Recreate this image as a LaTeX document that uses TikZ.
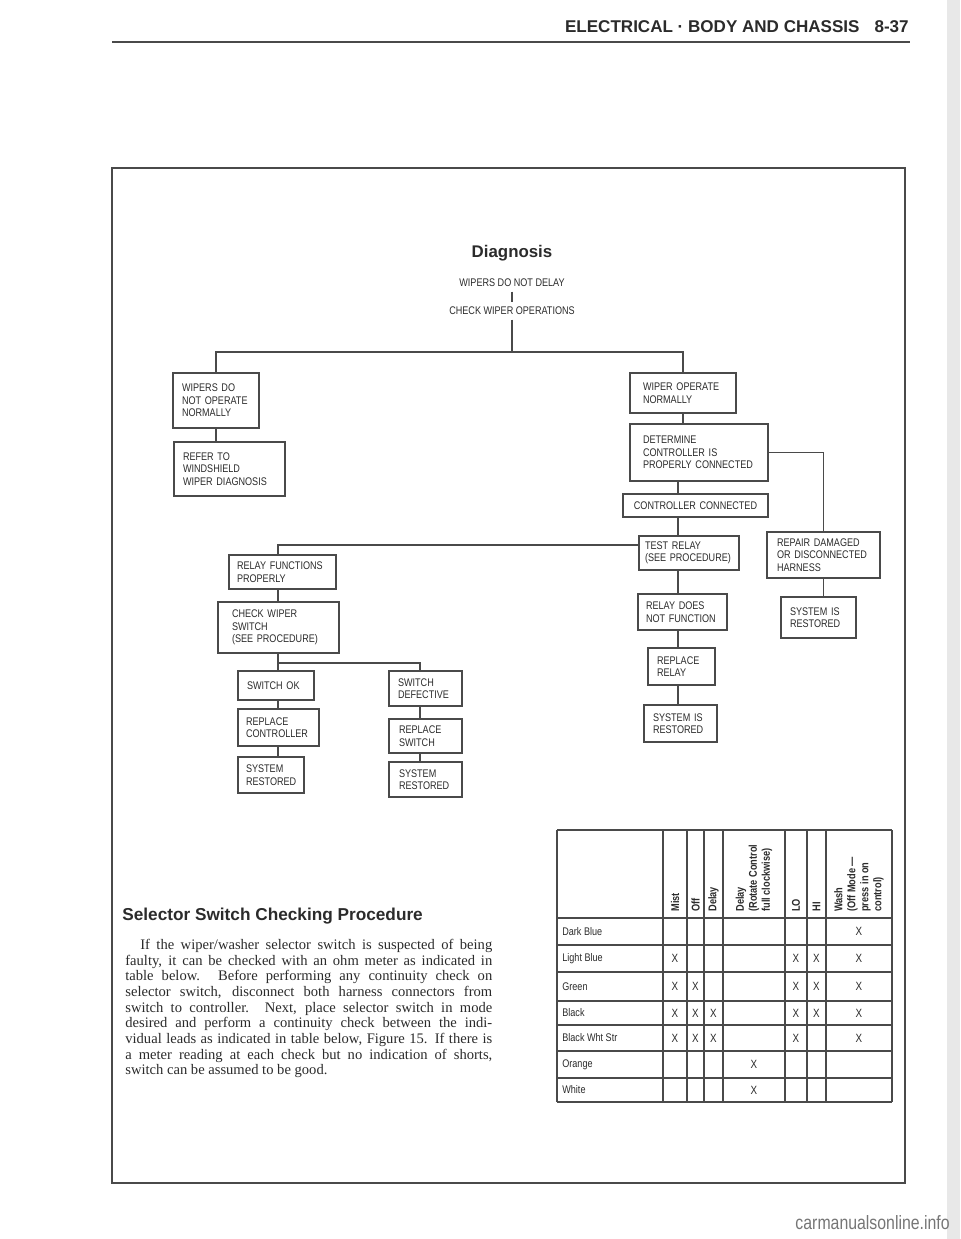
\documentclass[tikz,border=0pt]{standalone}
\usepackage{fontspec}
\setmainfont{Liberation Serif}
\newfontfamily\boxfont[FakeStretch=0.82]{Liberation Sans}
\newfontfamily\headfont{Liberation Sans}
\usetikzlibrary{calc}
\definecolor{ink}{HTML}{2b2b2b}
\definecolor{rulegray}{HTML}{4a4a4a}
\definecolor{scan}{HTML}{767676}

\tikzset{
  boxpad/.code={\def\bxpad{#1}},
  flow/.style={draw=rulegray, line width=0.65pt, text=ink, anchor=north west, align=left,
    inner ysep=0pt, outer sep=0pt, boxpad=9,
    font=\boxfont\fontsize{6.3}{7.1}\selectfont},
  boxsize/.code 2 args={%
    \pgfmathsetmacro\bxw{#1*0.02}%
    \pgfmathsetmacro\bxt{(#1-2*\bxpad)*0.02}%
    \pgfmathsetmacro\bxs{\bxpad*0.02}%
    \pgfmathsetmacro\bxh{#2*0.02}%
    \edef\bxset{\noexpand\pgfkeysalso{inner xsep=\bxs cm, minimum width=\bxw cm,
      text width=\bxt cm, minimum height=\bxh cm}}%
    \bxset},
  link/.style={draw=rulegray, line width=0.6pt},
  caption/.style={text=ink, inner xsep=0pt, inner ysep=2.5pt, font=\boxfont\fontsize{6.3}{7.1}\selectfont},
  grid/.style={draw=rulegray, line width=0.6pt},
  colhead/.style={rotate=90, anchor=west, align=left, inner sep=0pt, text=ink,
    font=\boxfont\bfseries\fontsize{6.4}{7.4}\selectfont},
  rowlab/.style={anchor=west, inner sep=0pt, text=ink, font=\boxfont\fontsize{6.3}{7.2}\selectfont},
  xmark/.style={inner sep=0pt, text=ink, font=\boxfont\fontsize{6.8}{7.5}\selectfont},
}

\begin{document}
\begin{tikzpicture}[x=0.02cm, y=-0.02cm]
\fill[white] (0,0) rectangle (960,1239);
\useasboundingbox (0,0) rectangle (960,1239);
% page edge of the scan
\fill[black!9] (947,0) rectangle (960,1239);

% running head
\node[anchor=base east, inner sep=0pt, text=ink, font=\headfont\bfseries\fontsize{9.7}{11}\selectfont]
  (runhead) at (909,33) {ELECTRICAL · BODY AND CHASSIS\hspace{0.3cm}8-37};
\draw[rulegray, line width=0.8pt] (112,42) -- (910,42);

% figure frame
\draw[rulegray, line width=0.7pt] (112,168) rectangle (905,1183);

% Diagnosis chart
\node[anchor=base, inner sep=0pt, text=ink, font=\headfont\bfseries\fontsize{9.6}{11}\selectfont]
  (diag) at (512,258) {Diagnosis};
\node[caption] (nodelay) at (512,283) {WIPERS DO NOT DELAY};
\node[caption] (checkops) at (512,311) {CHECK WIPER OPERATIONS};
\coordinate (split) at (512,352);

% left branch
\node[flow, boxsize={86}{55}] (noop) at (173,373) {WIPERS DO\\NOT OPERATE\\NORMALLY};
\node[flow, boxsize={111}{54}] (refer) at (174,442) {REFER TO\\WINDSHIELD\\WIPER DIAGNOSIS};

% right branch
\node[flow, boxpad=13, boxsize={106}{40}] (wopnorm) at (630,373) {WIPER OPERATE\\NORMALLY};
\node[flow, boxpad=13, boxsize={138}{57}] (determine) at (630,424) {DETERMINE\\CONTROLLER IS\\PROPERLY CONNECTED};
\node[flow, boxpad=6, boxsize={145}{23}, align=center] (connected) at (623,494) {CONTROLLER CONNECTED};
\node[flow, boxpad=6, boxsize={100}{34}] (testrelay) at (639,536) {TEST RELAY\\(SEE PROCEDURE)};
\node[flow, boxpad=8, boxsize={89}{36}] (relaydoes) at (638,594) {RELAY DOES\\NOT FUNCTION};
\node[flow, boxsize={67}{37}] (replrelay) at (648,648) {REPLACE\\RELAY};
\node[flow, boxsize={73}{37}] (restored3) at (644,705) {SYSTEM IS\\RESTORED};
\node[flow, boxpad=10, boxsize={113}{46}] (repair) at (767,532) {REPAIR DAMAGED\\OR DISCONNECTED\\HARNESS};
\node[flow, boxsize={75}{41}] (restored4) at (781,597) {SYSTEM IS\\RESTORED};

% relay works -> switch check
\node[flow, boxpad=8, boxsize={107}{34}] (relayok) at (229,555) {RELAY FUNCTIONS\\PROPERLY};
\node[flow, boxpad=14, boxsize={121}{51}] (checksw) at (218,602) {CHECK WIPER\\SWITCH\\(SEE PROCEDURE)};
\node[flow, boxsize={76}{29}] (swok) at (238,671) {SWITCH OK};
\node[flow, boxpad=8, boxsize={81}{37}] (replctl) at (238,709) {REPLACE\\CONTROLLER};
\node[flow, boxpad=8, boxsize={66}{36}] (restored1) at (238,757) {SYSTEM\\RESTORED};
\node[flow, boxsize={73}{35}] (swdef) at (389,671) {SWITCH\\DEFECTIVE};
\node[flow, boxpad=10, boxsize={73}{34}] (replsw) at (389,719) {REPLACE\\SWITCH};
\node[flow, boxpad=10, boxsize={73}{35}] (restored2) at (389,762) {SYSTEM\\RESTORED};

\coordinate (spine) at (678,0);
\coordinate (lspine) at (278,0);
\coordinate (rspine) at (420,0);
\coordinate (swsplit) at (278,663);

% connectors
\draw[link] (nodelay) -- (checkops);
\draw[link] (checkops) -- (split);
\draw[link] (noop.north) |- (split) -| (wopnorm.north);
\draw[link] (noop.south) -- (noop.south |- refer.north);
\draw[link] (wopnorm.south) -- (wopnorm.south |- determine.north);
\draw[link] (spine |- determine.south) -- (spine |- connected.north);
\draw[link] (spine |- connected.south) -- (spine |- testrelay.north);
\draw[link] (spine |- testrelay.south) -- (spine |- relaydoes.north);
\draw[link] (spine |- relaydoes.south) -- (spine |- replrelay.north);
\draw[link] (spine |- replrelay.south) -- (spine |- restored3.north);
\draw[link] (determine.east) -| (repair.north);
\draw[link] (repair.south) -- (repair.south |- restored4.north);
\draw[link] ([yshift=0.16cm]testrelay.west) -| (lspine |- relayok.north);
\draw[link] (lspine |- relayok.south) -- (lspine |- checksw.north);
\draw[link] (lspine |- checksw.south) -- (lspine |- swok.north);
\draw[link] (swsplit) -| (rspine |- swdef.north);
\draw[link] (lspine |- swok.south) -- (lspine |- replctl.north);
\draw[link] (lspine |- replctl.south) -- (lspine |- restored1.north);
\draw[link] (rspine |- swdef.south) -- (rspine |- replsw.north);
\draw[link] (rspine |- replsw.south) -- (rspine |- restored2.north);

% procedure text
\node[anchor=base west, inner sep=0pt, text=ink, font=\headfont\bfseries\fontsize{9.8}{11}\selectfont]
  (proctitle) at (122,920) {Selector Switch Checking Procedure};
\node[anchor=north west, inner sep=0pt, text width=7.34cm, align=justify, text=ink,
  font=\fontsize{8.3}{8.9}\selectfont] (proc) at (125,939)
  {\hspace*{0.3cm}If the wiper/washer selector switch is suspected of being\linebreak
   faulty, it can be checked with an ohm meter as indicated in\linebreak
   table below. Before performing any continuity check on\linebreak
   selector switch, disconnect both harness connectors from\linebreak
   switch to controller. Next, place selector switch in mode\linebreak
   desired and perform a continuity check between the indi-\linebreak
   vidual leads as indicated in table below, Figure 15. If there is\linebreak
   a meter reading at each check but no indication of shorts,\linebreak
   switch can be assumed to be good.};

% selector switch table
\foreach \x in {557,663,687,704,723,785,807,826,892}
  \draw[grid] (\x,830) -- (\x,1102);
\foreach \y in {830,918,945,972,1001,1025,1051,1078,1102}
  \draw[grid] (557,\y) -- (892,\y);
\foreach \x/\txt [count=\i] in {675/Mist, 695.5/Off, 713.5/Delay, 796/LO, 816.5/HI}
  \node[colhead] (head\i) at (\x,912) {\txt};
\node[colhead] (headrot) at (754,912) {Delay\\(Rotate Control\\full clockwise)};
\node[colhead] (headwash) at (859,912) {Wash\\(Off Mode —\\press in on\\control)};
\foreach \y/\txt [count=\i] in {931.5/Dark Blue, 958.5/Light Blue, 986.5/Green, 1013/Black,
    1038/Black Wht Str, 1064.5/Orange, 1090/White}
  \node[rowlab] (lead\i) at (562,\y) {\txt};
\foreach \x/\y [count=\i] in {859/931.5,
    675/958.5, 796/958.5, 816.5/958.5, 859/958.5,
    675/986.5, 695.5/986.5, 796/986.5, 816.5/986.5, 859/986.5,
    675/1013, 695.5/1013, 713.5/1013, 796/1013, 816.5/1013, 859/1013,
    675/1038, 695.5/1038, 713.5/1038, 796/1038, 859/1038,
    754/1064.5, 754/1090}
  \node[xmark] (x\i) at (\x,\y) {X};

% scan watermark
\node[anchor=base east, inner sep=0pt, text=scan, font=\boxfont\fontsize{11}{12}\selectfont]
  (wmark) at (950,1229) {carmanualsonline.info};
\end{tikzpicture}
\end{document}
